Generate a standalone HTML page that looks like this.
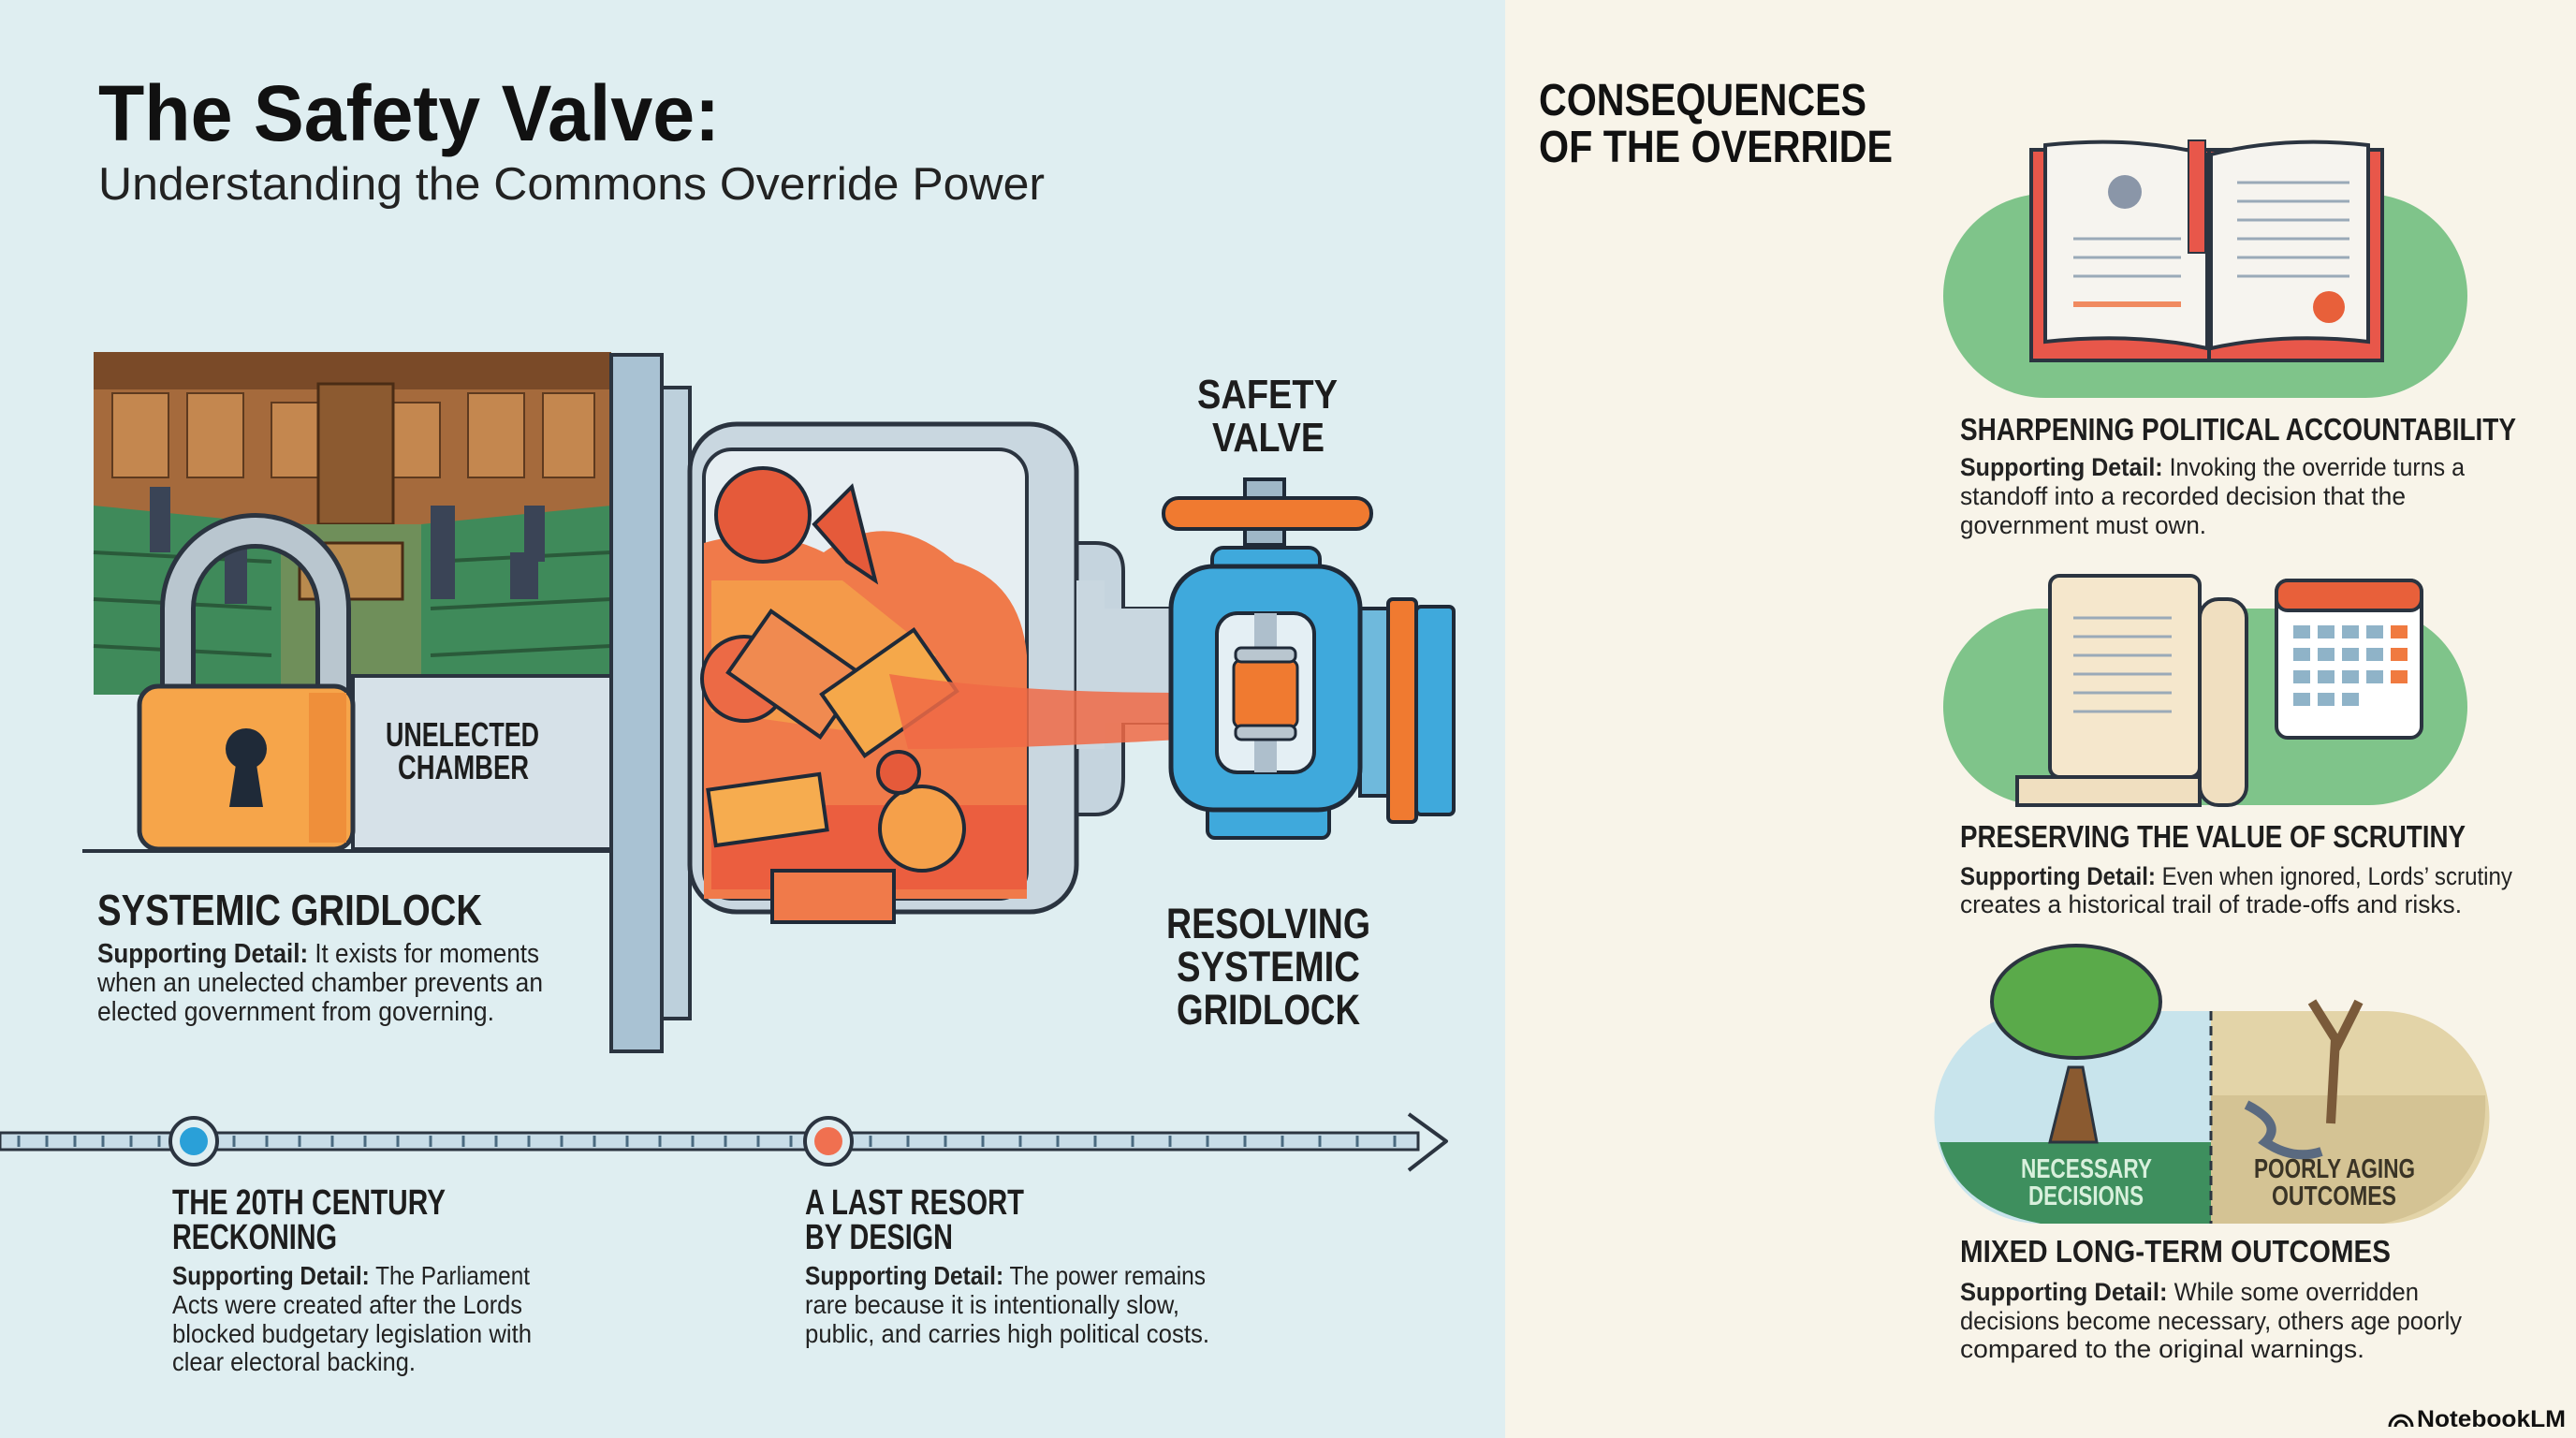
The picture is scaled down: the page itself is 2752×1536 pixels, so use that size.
<!DOCTYPE html>
<html><head><meta charset="utf-8"><style>
html,body{margin:0;padding:0;}
body{width:2752px;height:1536px;overflow:hidden;}
svg{display:block;}
.h{font-family:"Liberation Sans Narrow","Liberation Sans",sans-serif;font-weight:bold;fill:#1d1d1d;}
.b{font-family:"Liberation Sans Narrow","Liberation Sans",sans-serif;fill:#222;}
</style></head><body>
<svg width="2752" height="1536" viewBox="0 0 2752 1536" xmlns="http://www.w3.org/2000/svg">
<rect x="0" y="0" width="1608" height="1536" fill="#dfeef1"/>
<rect x="1608" y="0" width="1144" height="1536" fill="#f8f4e9"/>

<text x="105" y="150" font-family="Liberation Sans" font-weight="bold" font-size="84" fill="#111" textLength="664" lengthAdjust="spacingAndGlyphs">The Safety Valve:</text>
<text x="105" y="213" font-family="Liberation Sans" font-size="49" fill="#222" textLength="1011" lengthAdjust="spacingAndGlyphs">Understanding the Commons Override Power</text>

<!-- Photo -->
<rect x="100" y="376" width="553" height="366" fill="#a56a3c"/>
<rect x="100" y="376" width="553" height="40" fill="#7a4a28"/>
<g fill="#c4874f" stroke="#5e3a1f" stroke-width="2">
<rect x="120" y="420" width="60" height="90"/><rect x="200" y="420" width="60" height="90"/><rect x="290" y="430" width="50" height="80"/><rect x="420" y="430" width="50" height="80"/><rect x="500" y="420" width="60" height="90"/><rect x="580" y="420" width="55" height="90"/>
</g>
<rect x="340" y="410" width="80" height="150" fill="#8c5a30" stroke="#4a2c15" stroke-width="3"/>
<path d="M100 540 L300 560 L300 742 L100 742Z" fill="#3f8a5a"/>
<path d="M653 540 L450 560 L450 742 L653 742Z" fill="#3f8a5a"/>
<g stroke="#2a5a3a" stroke-width="4">
<line x1="100" y1="590" x2="290" y2="600"/><line x1="100" y1="640" x2="290" y2="650"/><line x1="100" y1="690" x2="290" y2="700"/>
<line x1="653" y1="590" x2="460" y2="600"/><line x1="653" y1="640" x2="460" y2="650"/><line x1="653" y1="690" x2="460" y2="700"/>
</g>
<rect x="300" y="560" width="150" height="182" fill="#6f8f5a"/>
<rect x="320" y="580" width="110" height="60" fill="#b98a4e" stroke="#4a2c15" stroke-width="3"/>
<g fill="#3a4456"><rect x="160" y="520" width="22" height="70"/><rect x="240" y="555" width="24" height="90"/><rect x="460" y="540" width="26" height="100"/><rect x="560" y="540" width="22" height="60"/><rect x="545" y="590" width="30" height="50"/></g>

<rect x="377" y="722" width="276" height="185" fill="#d6e1e8" stroke="#2b3440" stroke-width="4"/>
<text x="412" y="797" class="h" font-size="36" textLength="164" lengthAdjust="spacingAndGlyphs">UNELECTED</text>
<text x="425" y="832" class="h" font-size="36" textLength="140" lengthAdjust="spacingAndGlyphs">CHAMBER</text>
<path d="M190 740 L190 650 A83 83 0 0 1 356 650 L356 740" fill="none" stroke="#2b3440" stroke-width="38"/>
<path d="M190 740 L190 650 A83 83 0 0 1 356 650 L356 740" fill="none" stroke="#b9c6cf" stroke-width="28"/>
<rect x="149" y="733" width="228" height="174" rx="20" fill="#f6a54a" stroke="#2b3440" stroke-width="5"/>
<rect x="330" y="740" width="40" height="160" fill="#ef8f3a"/>
<circle cx="263" cy="800" r="22" fill="#1f2a38"/><path d="M253 810 L245 862 L281 862 L273 810Z" fill="#1f2a38"/>
<line x1="88" y1="909" x2="653" y2="909" stroke="#2b3440" stroke-width="4"/>

<text x="104" y="988" class="h" font-size="46" textLength="411" lengthAdjust="spacingAndGlyphs">SYSTEMIC GRIDLOCK</text>
<text x="104" y="1028" class="b" font-size="29" textLength="472" lengthAdjust="spacingAndGlyphs"><tspan font-weight="bold">Supporting Detail:</tspan> It exists for moments</text>
<text x="104" y="1059" class="b" font-size="29" textLength="476" lengthAdjust="spacingAndGlyphs">when an unelected chamber prevents an</text>
<text x="104" y="1090" class="b" font-size="29" textLength="424" lengthAdjust="spacingAndGlyphs">elected government from governing.</text>

<rect x="653" y="379" width="54" height="744" fill="#a9c2d3" stroke="#2b3440" stroke-width="4"/>
<rect x="707" y="414" width="30" height="674" fill="#bdd0dc" stroke="#2b3440" stroke-width="4"/>
<path d="M1100 580 L1170 580 Q1200 580 1200 610 L1200 650 L1260 650 L1260 772 L1200 772 L1200 830 Q1200 870 1170 870 L1100 870Z" fill="#c5d4de" stroke="#2b3440" stroke-width="4"/>
<rect x="737" y="453" width="413" height="521" rx="50" fill="#c9d7e0" stroke="#2b3440" stroke-width="5"/>
<path d="M1150 620 L1180 620 L1180 650 L1260 650 L1260 772 L1180 772 L1180 800 L1150 800Z" fill="#c9d7e0"/>
<rect x="752" y="480" width="345" height="480" rx="30" fill="#e6eef2" stroke="#2b3440" stroke-width="4"/>
<path d="M752 580 Q820 560 880 590 Q950 540 1020 600 Q1090 620 1097 700 L1097 960 L752 960Z" fill="#f07a4a"/>
<path d="M760 620 L900 620 L1000 700 L900 780 L760 760Z" fill="#f5a24a" opacity="0.8"/>
<path d="M760 860 L1097 860 L1097 950 L760 950Z" fill="#e8533a" opacity="0.7"/>
<g stroke="#1f2a38" stroke-width="4">
<circle cx="815" cy="550" r="50" fill="#e55a3a"/>
<circle cx="795" cy="725" r="45" fill="#ec6a45"/>
<rect x="790" y="680" width="120" height="80" fill="#f08a50" transform="rotate(35 850 720)"/>
<rect x="890" y="700" width="120" height="80" fill="#f5a84a" transform="rotate(-35 950 740)"/>
<circle cx="985" cy="885" r="45" fill="#f5a04a"/>
<circle cx="960" cy="825" r="22" fill="#e55a3a"/>
<rect x="760" y="835" width="120" height="60" fill="#f6ac4f" transform="rotate(-8 820 865)"/>
<rect x="825" y="930" width="130" height="55" fill="#f07a4a"/>
<path d="M870 560 L910 520 L935 620 L905 600Z" fill="#e55a3a"/>
</g>
<path d="M950 720 Q1080 740 1260 740 L1260 790 Q1080 800 970 800Z" fill="#f06a45" opacity="0.85"/>

<rect x="1330" y="512" width="42" height="70" fill="#9fb7c7" stroke="#1f2a38" stroke-width="4"/>
<rect x="1243" y="532" width="222" height="33" rx="16" fill="#f07a30" stroke="#1f2a38" stroke-width="4"/>
<rect x="1295" y="585" width="115" height="40" rx="12" fill="#3fa9dc" stroke="#1f2a38" stroke-width="4"/>
<rect x="1453" y="650" width="40" height="200" fill="#6fb9dc" stroke="#1f2a38" stroke-width="4"/>
<rect x="1483" y="640" width="30" height="238" rx="5" fill="#f07a30" stroke="#1f2a38" stroke-width="4"/>
<rect x="1513" y="648" width="40" height="222" rx="5" fill="#3fa9dc" stroke="#1f2a38" stroke-width="4"/>
<rect x="1290" y="845" width="130" height="50" rx="8" fill="#3fa9dc" stroke="#1f2a38" stroke-width="4"/>
<rect x="1251" y="605" width="202" height="260" rx="45" fill="#3fa9dc" stroke="#1f2a38" stroke-width="5"/>
<rect x="1300" y="655" width="104" height="170" rx="22" fill="#e4eff4" stroke="#1f2a38" stroke-width="4"/>
<rect x="1340" y="655" width="24" height="170" fill="#aebfcc"/>
<rect x="1318" y="705" width="68" height="72" rx="8" fill="#f07a30" stroke="#1f2a38" stroke-width="3"/>
<rect x="1320" y="692" width="64" height="15" rx="6" fill="#b9c6cf" stroke="#1f2a38" stroke-width="3"/>
<rect x="1320" y="775" width="64" height="15" rx="6" fill="#b9c6cf" stroke="#1f2a38" stroke-width="3"/>

<text x="1279" y="436" class="h" font-size="44" textLength="150" lengthAdjust="spacingAndGlyphs">SAFETY</text>
<text x="1295" y="482" class="h" font-size="44" textLength="120" lengthAdjust="spacingAndGlyphs">VALVE</text>
<text x="1246" y="1002" class="h" font-size="45" textLength="218" lengthAdjust="spacingAndGlyphs">RESOLVING</text>
<text x="1257" y="1048" class="h" font-size="45" textLength="196" lengthAdjust="spacingAndGlyphs">SYSTEMIC</text>
<text x="1257" y="1094" class="h" font-size="45" textLength="196" lengthAdjust="spacingAndGlyphs">GRIDLOCK</text>

<rect x="0" y="1210" width="1515" height="18" fill="#c8dde8" stroke="#2b3440" stroke-width="3"/>
<g stroke="#4a6a80" stroke-width="3">
<line x1="20" y1="1213" x2="20" y2="1225"/><line x1="50" y1="1213" x2="50" y2="1225"/><line x1="80" y1="1213" x2="80" y2="1225"/><line x1="110" y1="1213" x2="110" y2="1225"/><line x1="140" y1="1213" x2="140" y2="1225"/><line x1="170" y1="1213" x2="170" y2="1225"/>
<line x1="250" y1="1213" x2="250" y2="1225"/><line x1="285" y1="1213" x2="285" y2="1225"/><line x1="320" y1="1213" x2="320" y2="1225"/><line x1="355" y1="1213" x2="355" y2="1225"/><line x1="390" y1="1213" x2="390" y2="1225"/><line x1="425" y1="1213" x2="425" y2="1225"/><line x1="460" y1="1213" x2="460" y2="1225"/><line x1="495" y1="1213" x2="495" y2="1225"/><line x1="530" y1="1213" x2="530" y2="1225"/><line x1="565" y1="1213" x2="565" y2="1225"/><line x1="600" y1="1213" x2="600" y2="1225"/><line x1="635" y1="1213" x2="635" y2="1225"/><line x1="670" y1="1213" x2="670" y2="1225"/><line x1="705" y1="1213" x2="705" y2="1225"/><line x1="740" y1="1213" x2="740" y2="1225"/><line x1="775" y1="1213" x2="775" y2="1225"/><line x1="810" y1="1213" x2="810" y2="1225"/><line x1="845" y1="1213" x2="845" y2="1225"/>
<line x1="930" y1="1213" x2="930" y2="1225"/><line x1="970" y1="1213" x2="970" y2="1225"/><line x1="1010" y1="1213" x2="1010" y2="1225"/><line x1="1050" y1="1213" x2="1050" y2="1225"/><line x1="1090" y1="1213" x2="1090" y2="1225"/><line x1="1130" y1="1213" x2="1130" y2="1225"/><line x1="1170" y1="1213" x2="1170" y2="1225"/><line x1="1210" y1="1213" x2="1210" y2="1225"/><line x1="1250" y1="1213" x2="1250" y2="1225"/><line x1="1290" y1="1213" x2="1290" y2="1225"/><line x1="1330" y1="1213" x2="1330" y2="1225"/><line x1="1370" y1="1213" x2="1370" y2="1225"/><line x1="1410" y1="1213" x2="1410" y2="1225"/><line x1="1450" y1="1213" x2="1450" y2="1225"/><line x1="1490" y1="1213" x2="1490" y2="1225"/>
</g>
<path d="M1505 1190 L1545 1219 L1505 1250" fill="none" stroke="#2b3440" stroke-width="4" stroke-linejoin="round"/>
<circle cx="207" cy="1219" r="25" fill="#dfeef1" stroke="#2b3440" stroke-width="4"/><circle cx="207" cy="1219" r="15" fill="#2aa0d8"/>
<circle cx="885" cy="1219" r="25" fill="#dfeef1" stroke="#2b3440" stroke-width="4"/><circle cx="885" cy="1219" r="15" fill="#f07050"/>

<text x="184" y="1297" class="h" font-size="38" textLength="292" lengthAdjust="spacingAndGlyphs">THE 20TH CENTURY</text>
<text x="184" y="1334" class="h" font-size="38" textLength="176" lengthAdjust="spacingAndGlyphs">RECKONING</text>
<text x="184" y="1372" class="b" font-size="28" textLength="382" lengthAdjust="spacingAndGlyphs"><tspan font-weight="bold">Supporting Detail:</tspan> The Parliament</text>
<text x="184" y="1403" class="b" font-size="28" textLength="374" lengthAdjust="spacingAndGlyphs">Acts were created after the Lords</text>
<text x="184" y="1434" class="b" font-size="28" textLength="384" lengthAdjust="spacingAndGlyphs">blocked budgetary legislation with</text>
<text x="184" y="1464" class="b" font-size="28" textLength="260" lengthAdjust="spacingAndGlyphs">clear electoral backing.</text>

<text x="860" y="1297" class="h" font-size="38" textLength="234" lengthAdjust="spacingAndGlyphs">A LAST RESORT</text>
<text x="860" y="1334" class="h" font-size="38" textLength="158" lengthAdjust="spacingAndGlyphs">BY DESIGN</text>
<text x="860" y="1372" class="b" font-size="28" textLength="428" lengthAdjust="spacingAndGlyphs"><tspan font-weight="bold">Supporting Detail:</tspan> The power remains</text>
<text x="860" y="1403" class="b" font-size="28" textLength="400" lengthAdjust="spacingAndGlyphs">rare because it is intentionally slow,</text>
<text x="860" y="1434" class="b" font-size="28" textLength="432" lengthAdjust="spacingAndGlyphs">public, and carries high political costs.</text>

<!-- RIGHT -->
<text x="1644" y="123" font-family="Liberation Sans" font-weight="bold" font-size="48" fill="#111" textLength="350" lengthAdjust="spacingAndGlyphs">CONSEQUENCES</text>
<text x="1644" y="173" font-family="Liberation Sans" font-weight="bold" font-size="48" fill="#111" textLength="378" lengthAdjust="spacingAndGlyphs">OF THE OVERRIDE</text>

<rect x="2076" y="207" width="560" height="218" rx="109" fill="#7fc48a"/>
<path d="M2170 160 L2360 160 L2360 385 L2170 385Z" fill="#e8574a" stroke="#2b3440" stroke-width="4"/>
<path d="M2360 160 L2545 160 L2545 385 L2360 385Z" fill="#e8574a" stroke="#2b3440" stroke-width="4"/>
<path d="M2185 155 Q2280 145 2358 165 L2358 372 Q2280 355 2185 365Z" fill="#f6f4ef" stroke="#2b3440" stroke-width="4"/>
<path d="M2362 165 Q2440 145 2530 155 L2530 365 Q2440 355 2362 372Z" fill="#f6f4ef" stroke="#2b3440" stroke-width="4"/>
<rect x="2338" y="150" width="18" height="120" fill="#e8574a" stroke="#2b3440" stroke-width="2"/>
<g stroke="#9aaab8" stroke-width="3"><line x1="2215" y1="255" x2="2330" y2="255"/><line x1="2215" y1="275" x2="2330" y2="275"/><line x1="2215" y1="295" x2="2330" y2="295"/><line x1="2390" y1="195" x2="2510" y2="195"/><line x1="2390" y1="215" x2="2510" y2="215"/><line x1="2390" y1="235" x2="2510" y2="235"/><line x1="2390" y1="255" x2="2510" y2="255"/><line x1="2390" y1="275" x2="2510" y2="275"/><line x1="2390" y1="295" x2="2510" y2="295"/></g>
<line x1="2215" y1="325" x2="2330" y2="325" stroke="#f08a60" stroke-width="6"/>
<circle cx="2488" cy="328" r="17" fill="#e8603a"/>
<circle cx="2270" cy="205" r="18" fill="#8a96a8"/>

<text x="2094" y="470" class="h" font-size="33" textLength="594" lengthAdjust="spacingAndGlyphs">SHARPENING POLITICAL ACCOUNTABILITY</text>
<text x="2094" y="508" class="b" font-size="27" textLength="539" lengthAdjust="spacingAndGlyphs"><tspan font-weight="bold">Supporting Detail:</tspan> Invoking the override turns a</text>
<text x="2094" y="539" class="b" font-size="27" textLength="476" lengthAdjust="spacingAndGlyphs">standoff into a recorded decision that the</text>
<text x="2094" y="570" class="b" font-size="27" textLength="263" lengthAdjust="spacingAndGlyphs">government must own.</text>

<rect x="2076" y="650" width="560" height="210" rx="105" fill="#7fc48a"/>
<path d="M2155 830 L2350 830 L2350 860 L2155 860 Z" fill="#f0dfc0" stroke="#2b3440" stroke-width="4"/>
<rect x="2190" y="615" width="160" height="215" rx="10" fill="#f5e7cc" stroke="#2b3440" stroke-width="4"/>
<rect x="2350" y="640" width="50" height="220" rx="20" fill="#f0dfc0" stroke="#2b3440" stroke-width="4"/>
<g stroke="#9aaab8" stroke-width="3"><line x1="2215" y1="660" x2="2320" y2="660"/><line x1="2215" y1="680" x2="2320" y2="680"/><line x1="2215" y1="700" x2="2320" y2="700"/><line x1="2215" y1="720" x2="2320" y2="720"/><line x1="2215" y1="740" x2="2320" y2="740"/><line x1="2215" y1="760" x2="2320" y2="760"/></g>
<rect x="2432" y="620" width="155" height="168" rx="12" fill="#fff" stroke="#2b3440" stroke-width="4"/>
<rect x="2432" y="620" width="155" height="32" rx="12" fill="#e8603a" stroke="#2b3440" stroke-width="4"/>
<g fill="#8fb3c8"><rect x="2450" y="668" width="18" height="14"/><rect x="2476" y="668" width="18" height="14"/><rect x="2502" y="668" width="18" height="14"/><rect x="2528" y="668" width="18" height="14"/><rect x="2450" y="692" width="18" height="14"/><rect x="2476" y="692" width="18" height="14"/><rect x="2502" y="692" width="18" height="14"/><rect x="2528" y="692" width="18" height="14"/><rect x="2450" y="716" width="18" height="14"/><rect x="2476" y="716" width="18" height="14"/><rect x="2502" y="716" width="18" height="14"/><rect x="2528" y="716" width="18" height="14"/><rect x="2450" y="740" width="18" height="14"/><rect x="2476" y="740" width="18" height="14"/><rect x="2502" y="740" width="18" height="14"/></g>
<g fill="#f07a40"><rect x="2554" y="668" width="18" height="14"/><rect x="2554" y="692" width="18" height="14"/><rect x="2554" y="716" width="18" height="14"/></g>

<text x="2094" y="905" class="h" font-size="33" textLength="540" lengthAdjust="spacingAndGlyphs">PRESERVING THE VALUE OF SCRUTINY</text>
<text x="2094" y="945" class="b" font-size="27" textLength="590" lengthAdjust="spacingAndGlyphs"><tspan font-weight="bold">Supporting Detail:</tspan> Even when ignored, Lords’ scrutiny</text>
<text x="2094" y="975" class="b" font-size="27" textLength="536" lengthAdjust="spacingAndGlyphs">creates a historical trail of trade-offs and risks.</text>

<!-- trees -->
<path d="M2180 1080 L2362 1080 L2362 1307 L2180 1307 A113 113 0 0 1 2180 1080Z" fill="#c8e4ec"/>
<path d="M2362 1080 L2546 1080 A113 113 0 0 1 2546 1307 L2362 1307Z" fill="#e3d4a8"/>
<path d="M2072 1220 L2362 1220 L2362 1307 L2180 1307 Q2090 1290 2072 1220Z" fill="#3e8f5e"/>
<path d="M2362 1170 L2655 1170 Q2660 1280 2546 1307 L2362 1307Z" fill="#d4c394"/>
<line x1="2362" y1="1080" x2="2362" y2="1307" stroke="#2b3440" stroke-width="3" stroke-dasharray="10 6"/>
<path d="M2190 1220 L2210 1140 L2225 1140 L2240 1220Z" fill="#8a5a30" stroke="#2b3440" stroke-width="3"/>
<ellipse cx="2218" cy="1070" rx="90" ry="60" fill="#5aaa4a" stroke="#2b3440" stroke-width="4"/>
<path d="M2490 1200 L2495 1110 L2470 1070 M2495 1120 L2520 1070" stroke="#7a5a3a" stroke-width="10" fill="none"/>
<path d="M2400 1180 Q2440 1200 2420 1220 Q2450 1240 2480 1230" stroke="#5a6a80" stroke-width="10" fill="none"/>
<text x="2159" y="1258" class="h" font-size="29" style="fill:#d8f0dc" textLength="140" lengthAdjust="spacingAndGlyphs">NECESSARY</text>
<text x="2167" y="1287" class="h" font-size="29" style="fill:#d8f0dc" textLength="123" lengthAdjust="spacingAndGlyphs">DECISIONS</text>
<text x="2408" y="1258" class="h" font-size="29" style="fill:#3a3426" textLength="172" lengthAdjust="spacingAndGlyphs">POORLY AGING</text>
<text x="2427" y="1287" class="h" font-size="29" style="fill:#3a3426" textLength="133" lengthAdjust="spacingAndGlyphs">OUTCOMES</text>

<text x="2094" y="1348" class="h" font-size="33" textLength="460" lengthAdjust="spacingAndGlyphs">MIXED LONG-TERM OUTCOMES</text>
<text x="2094" y="1389" class="b" font-size="27" textLength="490" lengthAdjust="spacingAndGlyphs"><tspan font-weight="bold">Supporting Detail:</tspan> While some overridden</text>
<text x="2094" y="1420" class="b" font-size="27" textLength="536" lengthAdjust="spacingAndGlyphs">decisions become necessary, others age poorly</text>
<text x="2094" y="1450" class="b" font-size="27" textLength="432" lengthAdjust="spacingAndGlyphs">compared to the original warnings.</text>

<path d="M2553 1524 A12 12 0 0 1 2577 1524 M2559 1524 A6 6 0 0 1 2571 1524" stroke="#111" stroke-width="3" fill="none"/>
<text x="2582" y="1524" font-family="Liberation Sans" font-weight="bold" font-size="25" fill="#111" textLength="159" lengthAdjust="spacingAndGlyphs">NotebookLM</text>
</svg>
</body></html>
